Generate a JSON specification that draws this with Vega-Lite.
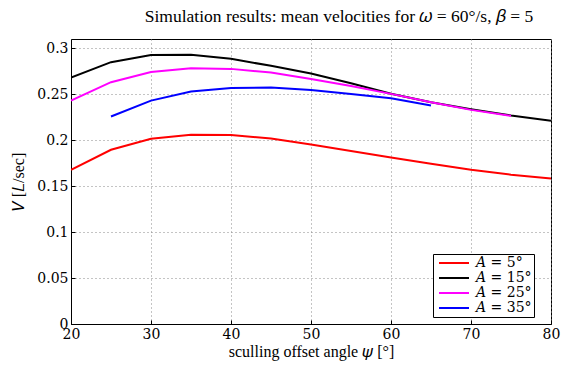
{
  "$schema": "https://vega.github.io/schema/vega-lite/v6.json",
  "autosize": "none",
  "width": 480,
  "height": 285,
  "padding": {"left": 71, "top": 39, "right": 11, "bottom": 45},
  "background": "white",
  "title": {
    "text": "Simulation results: mean velocities for 𝜔 = 60°/s, 𝛽 = 5",
    "font": "Liberation Serif",
    "fontSize": 17.5,
    "fontWeight": "normal",
    "color": "black",
    "anchor": "middle",
    "dx": 28,
    "offset": 14
  },
  "data": {
    "values": [
      {"psi": 20, "V": 0.1677, "A": "𝐴 = 5°"},
      {"psi": 25, "V": 0.1895, "A": "𝐴 = 5°"},
      {"psi": 30, "V": 0.2014, "A": "𝐴 = 5°"},
      {"psi": 35, "V": 0.2058, "A": "𝐴 = 5°"},
      {"psi": 40, "V": 0.2056, "A": "𝐴 = 5°"},
      {"psi": 45, "V": 0.2017, "A": "𝐴 = 5°"},
      {"psi": 50, "V": 0.1952, "A": "𝐴 = 5°"},
      {"psi": 55, "V": 0.1882, "A": "𝐴 = 5°"},
      {"psi": 60, "V": 0.1811, "A": "𝐴 = 5°"},
      {"psi": 65, "V": 0.1742, "A": "𝐴 = 5°"},
      {"psi": 70, "V": 0.1677, "A": "𝐴 = 5°"},
      {"psi": 75, "V": 0.1624, "A": "𝐴 = 5°"},
      {"psi": 80, "V": 0.1583, "A": "𝐴 = 5°"},
      {"psi": 20, "V": 0.268, "A": "𝐴 = 15°"},
      {"psi": 25, "V": 0.2848, "A": "𝐴 = 15°"},
      {"psi": 30, "V": 0.2925, "A": "𝐴 = 15°"},
      {"psi": 35, "V": 0.2928, "A": "𝐴 = 15°"},
      {"psi": 40, "V": 0.2884, "A": "𝐴 = 15°"},
      {"psi": 45, "V": 0.2808, "A": "𝐴 = 15°"},
      {"psi": 50, "V": 0.2725, "A": "𝐴 = 15°"},
      {"psi": 55, "V": 0.2618, "A": "𝐴 = 15°"},
      {"psi": 60, "V": 0.2505, "A": "𝐴 = 15°"},
      {"psi": 65, "V": 0.2412, "A": "𝐴 = 15°"},
      {"psi": 70, "V": 0.2337, "A": "𝐴 = 15°"},
      {"psi": 75, "V": 0.2268, "A": "𝐴 = 15°"},
      {"psi": 80, "V": 0.221, "A": "𝐴 = 15°"},
      {"psi": 20, "V": 0.243, "A": "𝐴 = 25°"},
      {"psi": 25, "V": 0.263, "A": "𝐴 = 25°"},
      {"psi": 30, "V": 0.2742, "A": "𝐴 = 25°"},
      {"psi": 35, "V": 0.2782, "A": "𝐴 = 25°"},
      {"psi": 40, "V": 0.2775, "A": "𝐴 = 25°"},
      {"psi": 45, "V": 0.2735, "A": "𝐴 = 25°"},
      {"psi": 50, "V": 0.2665, "A": "𝐴 = 25°"},
      {"psi": 55, "V": 0.2588, "A": "𝐴 = 25°"},
      {"psi": 60, "V": 0.2503, "A": "𝐴 = 25°"},
      {"psi": 65, "V": 0.2412, "A": "𝐴 = 25°"},
      {"psi": 70, "V": 0.2329, "A": "𝐴 = 25°"},
      {"psi": 75, "V": 0.2264, "A": "𝐴 = 25°"},
      {"psi": 25, "V": 0.2257, "A": "𝐴 = 35°"},
      {"psi": 30, "V": 0.243, "A": "𝐴 = 35°"},
      {"psi": 35, "V": 0.2529, "A": "𝐴 = 35°"},
      {"psi": 40, "V": 0.2568, "A": "𝐴 = 35°"},
      {"psi": 45, "V": 0.2572, "A": "𝐴 = 35°"},
      {"psi": 50, "V": 0.2545, "A": "𝐴 = 35°"},
      {"psi": 55, "V": 0.2503, "A": "𝐴 = 35°"},
      {"psi": 60, "V": 0.2456, "A": "𝐴 = 35°"},
      {"psi": 65, "V": 0.2376, "A": "𝐴 = 35°"}
    ]
  },
  "mark": {"type": "line", "strokeWidth": 2, "clip": true},
  "encoding": {
    "x": {
      "field": "psi",
      "type": "quantitative",
      "scale": {"domain": [20, 80], "nice": false, "zero": false},
      "axis": {
        "title": "sculling offset angle 𝜓 [°]",
        "values": [20, 30, 40, 50, 60, 70, 80],
        "format": "d",
        "labelFont": "DejaVu Serif",
        "labelFontSize": 14
      }
    },
    "y": {
      "field": "V",
      "type": "quantitative",
      "scale": {"domain": [0, 0.31], "nice": false},
      "axis": {
        "title": "𝑉 [𝐿/sec]",
        "values": [0, 0.05, 0.1, 0.15, 0.2, 0.25, 0.3],
        "format": "~g",
        "labelFont": "DejaVu Serif",
        "labelFontSize": 14
      }
    },
    "color": {
      "field": "A",
      "type": "nominal",
      "scale": {
        "domain": ["𝐴 = 5°", "𝐴 = 15°", "𝐴 = 25°", "𝐴 = 35°"],
        "range": ["#ff0000", "#000000", "#ff00ff", "#0000ff"]
      },
      "legend": {
        "title": null,
        "orient": "none",
        "legendX": 362,
        "legendY": 215,
        "symbolType": "M-5,0H1",
        "symbolSize": 100,
        "symbolStrokeWidth": 2,
        "symbolOffset": 22,
        "labelFont": "DejaVu Serif",
        "labelFontSize": 14,
        "labelColor": "black",
        "fillColor": "white",
        "strokeColor": "black",
        "padding": 2,
        "rowPadding": 1,
        "labelOffset": 5,
        "labelLimit": 200
      }
    }
  },
  "config": {
    "font": "Liberation Serif",
    "view": {"stroke": "black", "strokeWidth": 1},
    "axis": {
      "titleFont": "Liberation Serif",
      "titleFontSize": 16,
      "titleFontWeight": "normal",
      "labelColor": "black",
      "titleColor": "black",
      "domainColor": "black",
      "tickColor": "black",
      "tickSize": -4,
      "grid": true,
      "gridColor": "#888888",
      "gridDash": [1, 3],
      "gridOpacity": 1
    },
    "axisX": {"labelPadding": 7, "titlePadding": 2, "labelFlush": false},
    "axisY": {"labelPadding": 7, "titlePadding": 10, "labelFlush": false}
  }
}
